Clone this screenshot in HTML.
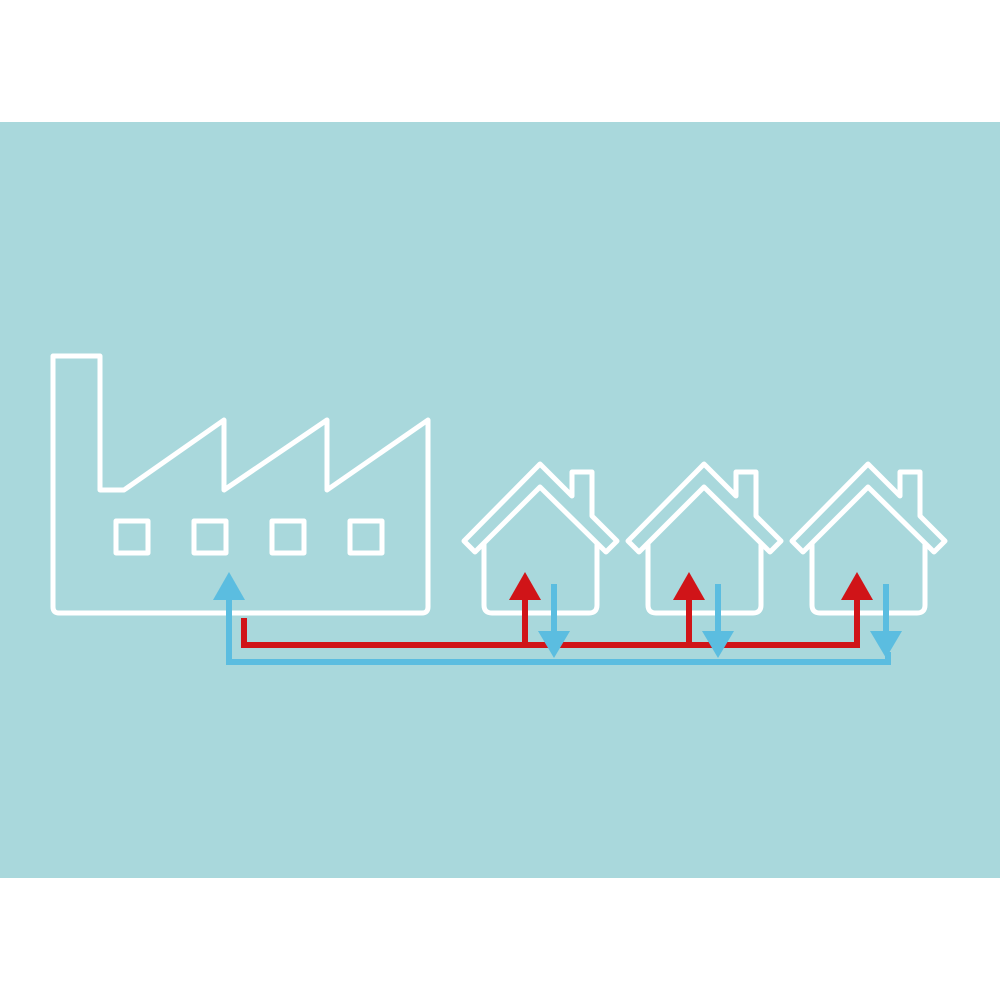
<!DOCTYPE html>
<html><head><style>html,body{margin:0;padding:0;background:#fff}</style></head>
<body>
<svg width="1000" height="999" viewBox="0 0 1000 999" xmlns="http://www.w3.org/2000/svg">
<rect x="0" y="0" width="1000" height="999" fill="#fff"/>
<rect x="0" y="122" width="1000" height="756" fill="#a9d8dc"/>
<g fill="none" stroke="#fff" stroke-width="5" stroke-linejoin="round">
<path d="M53,356 L100,356 L100,490 L124,490 L224,420 L224,490 L327,420 L327,490 L428,420 L428,607 Q428,613 422,613 L59,613 Q53,613 53,607 Z"/>
<rect x="116" y="521" width="32" height="32"/>
<rect x="194" y="521" width="32" height="32"/>
<rect x="272" y="521" width="32" height="32"/>
<rect x="350" y="521" width="32" height="32"/>
<g id="h">
<path d="M464,541 L540,464 L572,496 L572,472 L592,472 L592,516 L617,541 L606,552 L540,487 L475,552 Z"/>
<path d="M484,544 L484,605 Q484,613 492,613 L589,613 Q597,613 597,605 L597,544"/>
</g>
<use href="#h" x="164"/>
<use href="#h" x="328"/>
</g>
<g fill="none" stroke-width="6">
<path d="M229,598 L229,662 L888,662 L888,652" stroke="#5bbde0"/>
<path d="M244,618 L244,645 L857,645 L857,598 M525,645 L525,598 M689,645 L689,598" stroke="#d01418"/>
<path d="M554,584 L554,634 M718,584 L718,634 M886,584 L886,634" stroke="#5bbde0"/>
</g>
<g fill="#d01418">
<polygon points="525,572 509,600 541,600"/>
<polygon points="689,572 673,600 705,600"/>
<polygon points="857,572 841,600 873,600"/>
</g>
<g fill="#5bbde0">
<polygon points="229,572 213,600 245,600"/>
<polygon points="554,658 538,631 570,631"/>
<polygon points="718,658 702,631 734,631"/>
<polygon points="886,658 870,631 902,631"/>
</g>
</svg>
</body></html>
